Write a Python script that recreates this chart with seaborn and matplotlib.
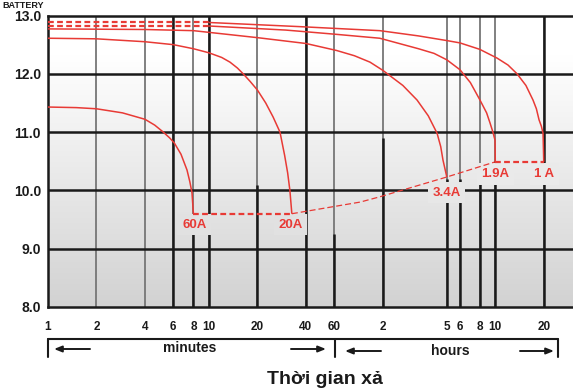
import numpy as np
import matplotlib
matplotlib.use("Agg")
import matplotlib.pyplot as plt
import seaborn as sns
from matplotlib.lines import Line2D
from matplotlib.patches import FancyArrowPatch
from matplotlib.ticker import NullLocator, FixedLocator, FixedFormatter

# ---------------- data (time in minutes, voltage in V) ----------------
tick_minutes = [1, 2, 4, 6, 8, 10, 20, 40, 60, 120, 300, 360, 480, 600, 1200]
tick_labels = ["1", "2", "4", "6", "8", "10", "20", "40", "60", "2", "5", "6", "8", "10", "20"]
y_ticks = [8.0, 9.0, 10.0, 11.0, 12.0, 13.0]
y_labels = ["8.0", "9.0", "10.0", "11.0", "12.0", "13.0"]

t_60A = [1, 1.5, 2, 2.9, 4, 4.6, 5.2, 5.7, 6.1, 6.7, 7.3, 7.6, 7.84, 8.0]
v_60A = [11.43, 11.42, 11.40, 11.33, 11.22, 11.12, 11.00, 10.90, 10.81, 10.62, 10.35, 10.15, 9.96, 9.60]

t_20A = [1, 2, 4, 6, 8, 10, 12, 13.5, 15, 16.3, 18, 20, 22.5, 25, 27.6, 29.5, 30.8, 31.8, 32.7]
v_20A = [12.61, 12.60, 12.55, 12.50, 12.43, 12.36, 12.28, 12.20, 12.10, 12.00, 11.87, 11.72,
         11.50, 11.26, 11.00, 10.60, 10.30, 10.00, 9.60]

t_3A4 = [1, 4, 8, 20, 40, 62, 80, 100, 120, 160, 196, 230, 261, 275, 284, 300]
v_3A4 = [12.77, 12.76, 12.74, 12.62, 12.52, 12.40, 12.31, 12.20, 12.06, 11.80, 11.55, 11.28,
         10.98, 10.75, 10.52, 10.23]

t_1A9_dash = [1, 10]
v_1A9_dash = [12.82, 12.82]
t_1A9 = [10, 30, 60, 115, 200, 250, 300, 362, 420, 482, 530, 556, 580, 598, 600]
v_1A9 = [12.82, 12.75, 12.68, 12.61, 12.43, 12.35, 12.24, 12.07, 11.85, 11.55, 11.33, 11.16,
         11.00, 10.86, 10.49]

t_1A_dash = [1, 10]
v_1A_dash = [12.88, 12.88]
t_1A = [10, 36, 115, 200, 300, 362, 480, 615, 720, 819, 930, 1029, 1080, 1122, 1160, 1188, 1200]
v_1A = [12.88, 12.81, 12.74, 12.65, 12.57, 12.53, 12.42, 12.27, 12.15, 12.00, 11.80, 11.55,
        11.40, 11.21, 11.10, 10.98, 10.49]

t_end_low = [8.0, 32.7]
v_end_low = [9.60, 9.60]
t_end_mid = [32.7, 87, 115, 300, 600]
v_end_mid = [9.60, 9.80, 9.89, 10.23, 10.49]
t_end_high = [600, 1200]
v_end_high = [10.49, 10.49]

current_labels = ["60A", "20A", "3.4A", "1.9A", "1 A"]
label_t = [8.1, 32.1, 299, 600, 1210]
label_v = [9.41, 9.41, 9.96, 10.28, 10.28]

# ---------------- style ----------------
sns.set_style("white")
plt.rcParams["font.family"] = ["Liberation Sans", "DejaVu Sans"]

RED = "#e83a35"
W, H = 573, 389
fig = plt.figure(figsize=(W / 100, H / 100), dpi=100)
ax = fig.add_axes([48 / W, (H - 307) / H, (W - 48) / W, (307 - 15.5) / H])
ax.set_xscale("log")
XMAX = 10 ** ((573 - 48) / 161)


def bg_gray(v):
    g = 255 - 45 * np.clip((12.3 - v) / 4.3, 0, 1)
    return g / 255.0


# background gradient
vals = np.linspace(13, 8, 300)
img = np.stack([bg_gray(vals)] * 3, axis=-1)[:, None, :]
ax.imshow(img, extent=(0, 1, 0, 1), transform=ax.transAxes, aspect="auto",
          zorder=0, interpolation="bilinear")

# vertical grid lines: gray segments and black segments
GRAY = "#767676"
BLACK = "#1a1a1a"
vstyle = {
    2: [], 4: [], 6: [(8, 13)], 8: [(8, 9.25)], 10: [(8, 13)],
    20: [(8, 10.1)], 40: [(8, 13)], 60: [(8, 9.25)], 120: [(8, 10.9)],
    300: [(8, 10.2)], 360: [(8, 10.2)], 480: [(8, 10.2)], 600: [(8, 10.5)],
    1200: [(8, 13)],
}
for xm, segs in vstyle.items():
    ax.vlines(xm, 8, 13, colors=GRAY, lw=1.3, zorder=1)
    for a, b in segs:
        ax.vlines(xm, a, b, colors=BLACK, lw=1.8, zorder=1.1)
for yv in [9, 10, 11, 12]:
    ax.axhline(yv, color=BLACK, lw=1.8, zorder=1.2)

# curves
def draw(t, v, lw=1.1, dashes=None):
    sns.lineplot(x=t, y=v, ax=ax, estimator=None, sort=False, color=RED,
                 lw=lw, legend=False, zorder=4)
    ln = ax.lines[-1]
    if dashes is not None:
        ln.set_dashes(dashes)
    ln.set_solid_capstyle("butt")
    ln.set_solid_joinstyle("round")

draw(t_60A, v_60A)
draw(t_20A, v_20A)
draw(t_3A4, v_3A4)
draw(t_1A9, v_1A9)
draw(t_1A, v_1A)
draw(t_1A9_dash, v_1A9_dash, lw=1.6, dashes=(2.6, 1.5))
draw(t_1A_dash, v_1A_dash, lw=1.6, dashes=(2.6, 1.5))
draw(t_end_low, v_end_low, lw=1.6, dashes=(2.6, 1.5))
draw(t_end_mid, v_end_mid, lw=0.9, dashes=(4.8, 2.4))
draw(t_end_high, v_end_high, lw=1.6, dashes=(2.6, 1.5))

# current labels with background box
for s, xm, yv in zip(current_labels, label_t, label_v):
    c = bg_gray(yv)
    ax.text(xm, yv, s, ha="center", va="center", color=RED, fontsize=9.5,
            fontweight="bold", zorder=3,
            bbox=dict(boxstyle="square,pad=0.35", fc=(c, c, c), ec="none"))

# axes
ax.set_xlim(1, XMAX)
ax.set_ylim(8, 13)
ax.xaxis.set_major_locator(FixedLocator(tick_minutes))
ax.xaxis.set_major_formatter(FixedFormatter(tick_labels))
ax.xaxis.set_minor_locator(NullLocator())
ax.set_yticks(y_ticks)
ax.set_yticklabels(y_labels)
ax.tick_params(axis="x", length=0, pad=10, labelsize=8.5)
ax.tick_params(axis="y", length=0, pad=5, labelsize=10)
for lab in ax.get_xticklabels() + ax.get_yticklabels():
    lab.set_fontweight("bold")
    lab.set_color("#1a1a1a")
for side in ["left", "top", "bottom"]:
    ax.spines[side].set_color(BLACK)
    ax.spines[side].set_linewidth(1.8)
    ax.spines[side].set_visible(True)
ax.spines["right"].set_visible(False)
ax.set_xlabel("")
ax.set_ylabel("")

# ---------------- bottom annotations (figure pixel coords) ----------------
def fx(px):
    return px / W

def fy(py):
    return 1 - py / H

lw_b = 1.5
for xs, ys in [([48, 558], [339, 339]), ([48, 48], [339, 357]),
               ([335, 335], [339, 357]), ([558, 558], [339, 357])]:
    fig.add_artist(Line2D([fx(x) for x in xs], [fy(y) for y in ys],
                          color=BLACK, lw=lw_b, transform=fig.transFigure))

def arrow(x0, x1, y):
    fig.add_artist(FancyArrowPatch((fx(x0), fy(y)), (fx(x1), fy(y)),
                                   transform=fig.transFigure,
                                   arrowstyle="-|>,head_length=0.45,head_width=0.18",
                                   mutation_scale=10, color=BLACK, lw=1.4,
                                   shrinkA=0, shrinkB=0))

arrow(90, 54, 349)
arrow(291, 326, 349)
arrow(381, 345, 351)
arrow(520, 554, 351)

fig.text(fx(190), fy(348), "minutes", ha="center", va="center", fontsize=10,
         fontweight="bold", color=BLACK)
fig.text(fx(450), fy(351), "hours", ha="center", va="center", fontsize=10,
         fontweight="bold", color=BLACK)
fig.text(fx(325), fy(379), "Thời gian xả", ha="center", va="center",
         fontsize=14, fontweight="bold", color=BLACK)
fig.text(fx(2), fy(7.5), "BATTERY", ha="left", va="baseline", fontsize=6.5,
         fontweight="bold", color=BLACK)

fig.savefig("out.png", dpi=100, facecolor="white")
